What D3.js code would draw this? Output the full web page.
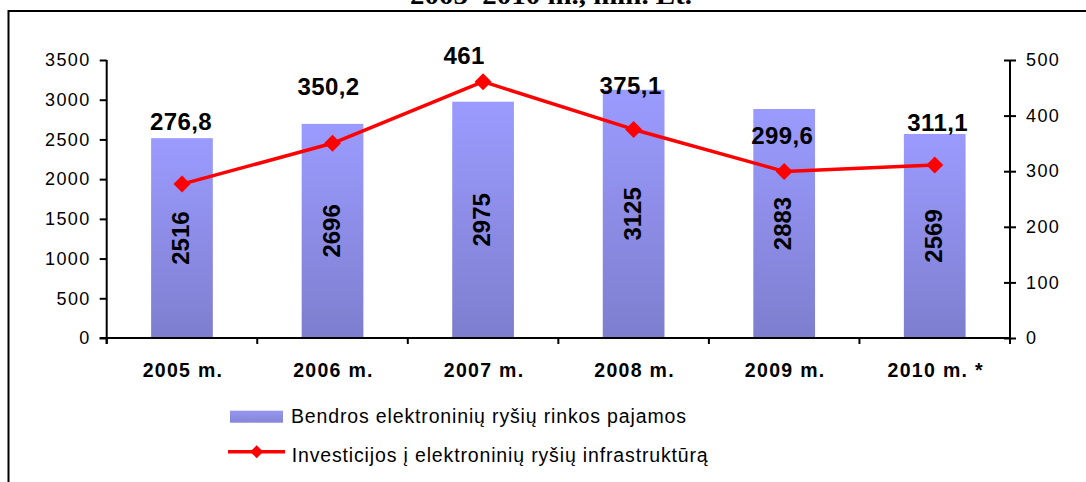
<!DOCTYPE html>
<html>
<head>
<meta charset="utf-8">
<script src="https://cdn.jsdelivr.net/npm/d3@7"></script>
<style>
  html, body { margin: 0; padding: 0; background: #fff; }
  svg { display: block; }
  text { font-family: "Liberation Sans", Arial, sans-serif; fill: #000; }
</style>
</head>
<body>
<svg id="chart" width="1086" height="482"></svg>
<script>
// ---- data ----
const categories = ["2005 m.", "2006 m.", "2007 m.", "2008 m.", "2009 m.", "2010 m. *"];
const revenue = [2516, 2696, 2975, 3125, 2883, 2569];
const investment = [276.8, 350.2, 461, 375.1, 299.6, 311.1];
const investmentLabels = ["276,8", "350,2", "461", "375,1", "299,6", "311,1"];
const leftTicks = [0, 500, 1000, 1500, 2000, 2500, 3000, 3500];
const rightTicks = [0, 100, 200, 300, 400, 500];
const seriesNames = ["Bendros elektroninių ryšių rinkos pajamos", "Investicijos į elektroninių ryšių infrastruktūrą"];
const titleText = "2005–2010 m., mln. Lt.";

// ---- layout (manual label nudges, as in the original) ----
const labelDx = [-1, -4, -19, -3, -2, 3];
const labelLift = [54, 48, 18, 35, 27, 34];

const svg = d3.select("#chart");
const pLeft = 106.7, pRight = 1010, pTop = 60, pBottom = 338;

const x = d3.scaleBand().domain(categories).range([pLeft, pRight]).padding(0);
const yL = d3.scaleLinear().domain([0, 3500]).range([pBottom, pTop]);
const yR = d3.scaleLinear().domain([0, 500]).range([pBottom, pTop]);

// gradient
const defs = svg.append("defs");
const grad = defs.append("linearGradient").attr("id", "barGrad")
  .attr("x1", 0).attr("y1", 0).attr("x2", 0).attr("y2", 1);
grad.append("stop").attr("offset", "0%").attr("stop-color", "#9b9bff");
grad.append("stop").attr("offset", "100%").attr("stop-color", "#7e7ecf");
const gradL = defs.append("linearGradient").attr("id", "legGrad")
  .attr("x1", 0).attr("y1", 0).attr("x2", 0).attr("y2", 1);
gradL.append("stop").attr("offset", "0%").attr("stop-color", "#9696f0");
gradL.append("stop").attr("offset", "100%").attr("stop-color", "#8585d8");

// frame
svg.append("path").attr("d", "M8.5,482 V11 H1086")
  .attr("fill", "none").attr("stroke", "#000").attr("stroke-width", 2);

// title (its upper part lies above the visible area, as in the original)
svg.append("text").attr("x", 551).attr("y", 3.5)
  .attr("text-anchor", "middle")
  .attr("textLength", 282).attr("lengthAdjust", "spacingAndGlyphs")
  .style("font-family", "'Liberation Serif', 'Times New Roman', serif")
  .style("font-weight", "bold").style("font-size", "26px")
  .text(titleText);

// bars
const barW = x.bandwidth() * 0.41;
svg.append("g").selectAll("rect").data(revenue).join("rect")
  .attr("x", (d, i) => x(categories[i]) + x.bandwidth() / 2 - barW / 2)
  .attr("y", d => yL(d))
  .attr("width", barW)
  .attr("height", d => yL(0) - yL(d))
  .attr("fill", "url(#barGrad)");

// bar value labels (rotated)
svg.append("g").selectAll("text").data(revenue).join("text")
  .attr("transform", (d, i) => `translate(${x(categories[i]) + x.bandwidth() / 2},${(yL(d) + yL(0)) / 2}) rotate(-90)`)
  .attr("text-anchor", "middle").attr("dy", "0.3em")
  .style("font-weight", "bold").style("font-size", "24px")
  .text(d => d);

// left axis
const gL = svg.append("g").attr("transform", `translate(${pLeft},0)`)
  .call(d3.axisLeft(yL).tickValues(leftTicks).tickFormat(d3.format("d")).tickSize(7).tickSizeOuter(0).tickPadding(9));
gL.select(".domain").attr("stroke-width", 2).attr("d", `M0,${pTop}V${pBottom + 6}`);
gL.selectAll(".tick line").attr("stroke-width", 2);
gL.selectAll(".tick text").style("font-size", "18px").style("font-family", "'Liberation Sans', Arial, sans-serif")
  .style("letter-spacing", "1.4px").attr("fill", "#000");

// right axis
const gR = svg.append("g").attr("transform", `translate(${pRight},0)`)
  .call(d3.axisRight(yR).tickValues(rightTicks).tickFormat(d3.format("d")).tickSize(6).tickSizeOuter(0).tickPadding(10));
gR.select(".domain").attr("stroke-width", 2).attr("d", `M0,${pTop}V${pBottom + 6}`);
gR.selectAll(".tick line").attr("x1", -6).attr("x2", 6).attr("stroke-width", 2);
gR.selectAll(".tick text").style("font-size", "18px").style("font-family", "'Liberation Sans', Arial, sans-serif")
  .style("letter-spacing", "1.4px").attr("fill", "#000");

// x axis (ticks at category boundaries)
const gX = svg.append("g");
gX.append("line").attr("x1", pLeft - 7).attr("x2", pRight).attr("y1", pBottom).attr("y2", pBottom)
  .attr("stroke", "#000").attr("stroke-width", 2);
const bounds = categories.map(c => x(c)).concat([x.range()[1]]);
gX.selectAll("line.tk").data(bounds).join("line").attr("class", "tk")
  .attr("x1", d => d).attr("x2", d => d).attr("y1", pBottom).attr("y2", pBottom + 6)
  .attr("stroke", "#000").attr("stroke-width", 2);
gX.selectAll("text").data(categories).join("text")
  .attr("x", d => x(d) + x.bandwidth() / 2 + 1)
  .attr("y", 377)
  .attr("text-anchor", "middle")
  .style("font-weight", "bold").style("font-size", "19.5px").style("letter-spacing", "1.3px")
  .text(d => d);

// line
const cx = i => x(categories[i]) + x.bandwidth() / 2;
const line = d3.line().x((d, i) => cx(i)).y(d => yR(d));
svg.append("path").datum(investment).attr("d", line)
  .attr("fill", "none").attr("stroke", "#ff0000").attr("stroke-width", 3.5)
  .attr("stroke-linejoin", "round");
const diamond = r => `M0,${-r}L${r},0L0,${r}L${-r},0Z`;
svg.append("g").selectAll("path").data(investment).join("path")
  .attr("transform", (d, i) => `translate(${cx(i)},${yR(d)})`)
  .attr("d", diamond(8.5)).attr("fill", "#ff0000");

// line value labels
svg.append("g").selectAll("text").data(investment).join("text")
  .attr("x", (d, i) => cx(i) + labelDx[i])
  .attr("y", (d, i) => yR(d) - labelLift[i])
  .attr("text-anchor", "middle")
  .style("font-weight", "bold").style("font-size", "24px").style("letter-spacing", "0.4px")
  .text((d, i) => investmentLabels[i]);

// legend
const leg = svg.append("g");
leg.append("rect").attr("x", 230).attr("y", 410.7).attr("width", 53).attr("height", 12)
  .attr("fill", "url(#legGrad)");
leg.append("text").attr("x", 291).attr("y", 423.3)
  .style("font-size", "19.5px").style("letter-spacing", "0.85px")
  .text(seriesNames[0]);
leg.append("line").attr("x1", 228).attr("x2", 285).attr("y1", 451.7).attr("y2", 451.7)
  .attr("stroke", "#ff0000").attr("stroke-width", 3.5);
leg.append("path").attr("transform", "translate(256.7,451.7)").attr("d", diamond(6.5)).attr("fill", "#ff0000");
leg.append("text").attr("x", 291.7).attr("y", 461.5)
  .style("font-size", "19.5px").style("letter-spacing", "0.85px")
  .text(seriesNames[1]);
</script>
</body>
</html>
